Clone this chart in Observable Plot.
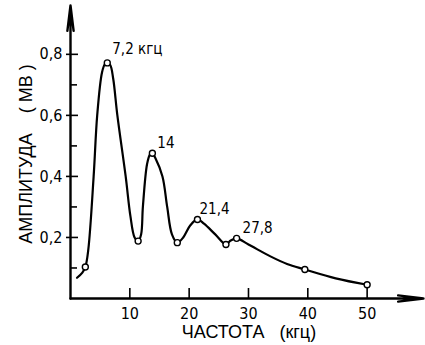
<!DOCTYPE html>
<html><head><meta charset="utf-8">
<script src="https://cdn.jsdelivr.net/npm/d3@7"></script>
<script src="https://cdn.jsdelivr.net/npm/@observablehq/plot@0.6"></script>
<style>body{margin:0;background:#fff}</style>
</head><body><div id="chart"></div>
<script>
// traced curve (kHz, mV)
const curveX = [1.1, 2.0, 2.5, 3.0, 3.9, 4.5, 5.3, 5.8, 6.2, 6.7, 7.2, 7.9, 9.3, 10.1, 10.8, 11.4, 11.9, 12.2, 12.9, 13.4, 13.8, 14.3, 15.5, 16.3, 17.1, 18.0, 19.0, 20.2, 21.4, 22.5, 24.4, 26.2, 27.0, 28.0, 30.0, 33.7, 36.5, 39.5, 44.7, 50.0];
const curveY = [0.068, 0.085, 0.103, 0.16, 0.40, 0.60, 0.74, 0.768, 0.772, 0.765, 0.72, 0.60, 0.40, 0.27, 0.20, 0.188, 0.21, 0.30, 0.44, 0.472, 0.476, 0.46, 0.40, 0.30, 0.21, 0.183, 0.20, 0.24, 0.259, 0.245, 0.21, 0.177, 0.19, 0.197, 0.177, 0.138, 0.113, 0.095, 0.066, 0.045];
// measured points (circles)
const pointX = [2.5, 6.2, 11.4, 13.8, 18.0, 21.4, 26.2, 28.0, 39.5, 50.0];
const pointY = [0.103, 0.772, 0.188, 0.476, 0.183, 0.259, 0.177, 0.197, 0.095, 0.045];
// peak annotations
const peakLabels = ["7,2 кгц", "14", "21,4", "27,8"];
const peakX = [6.2, 13.8, 21.4, 28.0];
const peakY = [0.772, 0.476, 0.259, 0.197];
// ticks
const xTicks = [10, 20, 30, 40, 50];
const yTicks = [0.2, 0.4, 0.6, 0.8];
const yMinorTicks = [0.1, 0.3, 0.5, 0.7];
const xTitle = "ЧАСТОТА\u00a0\u00a0\u00a0(кгц)";
const yTitle = "АМПЛИТУДА\u00a0\u00a0\u00a0\u00a0(\u00a0МВ\u00a0)";

const xDomain = [0, 59.5];
const yDomain = [0, 0.96];

const curve = curveX.map((x, i) => ({x, y: curveY[i]}));
const points = pointX.map((x, i) => ({x, y: pointY[i]}));
const peaks = peakLabels.map((t, i) => ({t, x: peakX[i], y: peakY[i]}));
const labelOffsets = [[5, -14], [5, -10], [2, -10], [6, -10]];

const numFont = "'Liberation Sans Narrow','DejaVu Sans Condensed',sans-serif";
const titleFont = "'Liberation Sans',Arial,sans-serif";
const fmt = d => String(d).replace(".", ",");

const W = 425, H = 345, mL = 70, mR = 2, mT = 5, mB = 47;
const frameW = W - mL - mR, frameH = H - mT - mB;

const chart = Plot.plot({
  width: W, height: H,
  marginLeft: mL, marginRight: mR, marginTop: mT, marginBottom: mB,
  x: {domain: xDomain, axis: null},
  y: {domain: yDomain, axis: null},
  style: {background: "#fff", color: "#000"},
  marks: [
    // axes with arrows
    Plot.arrow([0], {x1: xDomain[0], y1: 0, x2: xDomain[1], y2: 0, stroke: "#000", strokeWidth: 2.4, headAngle: 14, headLength: 16}),
    Plot.arrow([0], {x1: 0, y1: yDomain[0], x2: 0, y2: yDomain[1], stroke: "#000", strokeWidth: 2.4, headAngle: 14, headLength: 16}),
    // y ticks
    Plot.tickY(yTicks, {y: d => d, stroke: "#000", strokeWidth: 1.6, insetLeft: -4, insetRight: frameW - 8}),
    Plot.tickY(yMinorTicks, {y: d => d, stroke: "#000", strokeWidth: 1.6, insetLeft: 0, insetRight: frameW - 7}),
    // x ticks
    Plot.tickX(xTicks, {x: d => d, stroke: "#000", strokeWidth: 1.6, insetTop: frameH - 10, insetBottom: 0}),
    // tick labels
    Plot.text(yTicks, {x: 0, y: d => d, text: fmt, textAnchor: "end", dx: -8, fontSize: 16, fontFamily: numFont, fill: "#000"}),
    Plot.text(xTicks, {x: d => d, y: 0, text: fmt, dy: 15, lineAnchor: "middle", fontSize: 16, fontFamily: numFont, fill: "#000"}),
    // titles
    Plot.text([xTitle], {frameAnchor: "bottom", dy: 34, dx: 2, textAnchor: "middle", lineAnchor: "middle", fontSize: 18, fontFamily: titleFont, fill: "#000"}),
    Plot.text([yTitle], {frameAnchor: "left", rotate: -90, dx: -44, dy: 2, textAnchor: "middle", lineAnchor: "middle", fontSize: 18, fontFamily: titleFont, fill: "#000"}),
    // curve
    Plot.line(curve, {x: "x", y: "y", curve: "catmull-rom", stroke: "#000", strokeWidth: 2.2}),
    Plot.dot(points, {x: "x", y: "y", r: 3, fill: "#fff", stroke: "#000", strokeWidth: 1.4}),
    // peak labels
    ...peaks.map((p, i) => Plot.text([p], {x: "x", y: "y", text: "t", textAnchor: "start", dx: labelOffsets[i][0], dy: labelOffsets[i][1], fontSize: 15, fontFamily: numFont, fill: "#000"}))
  ]
});
document.getElementById("chart").appendChild(chart);
</script>
</body></html>
